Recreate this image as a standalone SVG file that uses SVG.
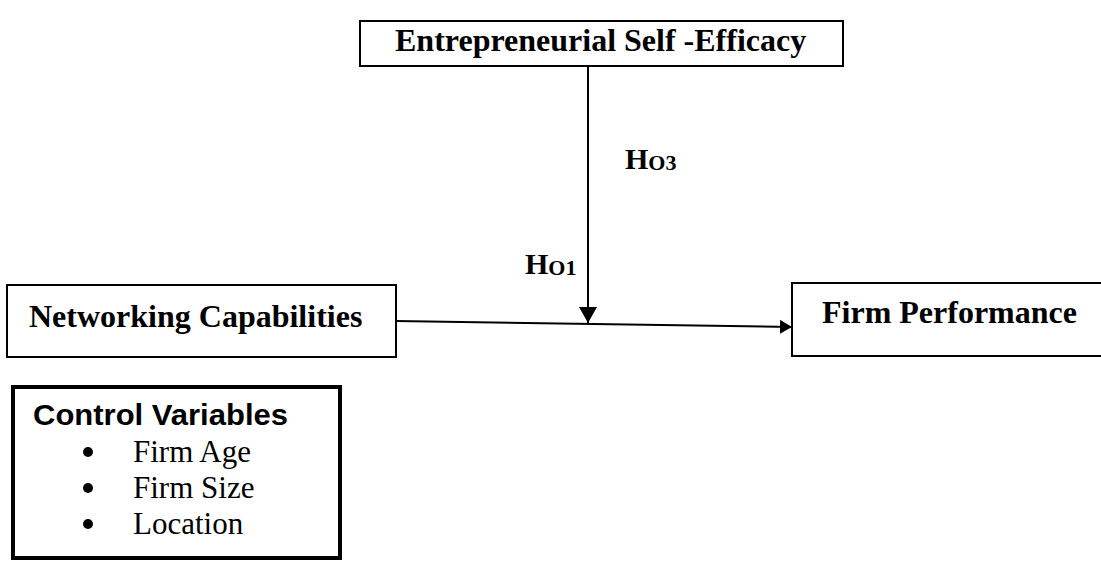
<svg xmlns="http://www.w3.org/2000/svg" width="1101" height="561" viewBox="0 0 1101 561">
<defs>
<style>
.box{fill:#fff;stroke:#000;stroke-width:2}
.t{font-family:"Liberation Serif","Times New Roman",serif;font-weight:bold;font-size:32px;fill:#000}
.h{font-family:"Liberation Serif","Times New Roman",serif;font-weight:bold;font-size:30px;fill:#000}
.hs{font-size:22px}
.cv{font-family:"Liberation Sans",Arial,sans-serif;font-weight:bold;font-size:29px;fill:#000}
.it{font-family:"Liberation Serif","Times New Roman",serif;font-size:31px;fill:#000}
.ln{stroke:#000;stroke-width:2;fill:none}
</style>
<marker id="ah" viewBox="0 0 12 14" refX="12" refY="7" markerWidth="12" markerHeight="14" markerUnits="userSpaceOnUse" orient="auto">
<path d="M0,0 L12,7 L0,14 Z" fill="#000"/>
</marker>
<marker id="ahv" viewBox="0 0 16 18" refX="16" refY="9" markerWidth="16" markerHeight="18" markerUnits="userSpaceOnUse" orient="auto">
<path d="M0,0 L16,9 L0,18 Z" fill="#000"/>
</marker>
</defs>
<rect width="1101" height="561" fill="#fff"/>
<g id="connectors">
<line class="ln" x1="396" y1="321" x2="792" y2="327" marker-end="url(#ah)"/>
<line class="ln" x1="588" y1="66" x2="588" y2="323" marker-end="url(#ahv)"/>
</g>
<g id="ese">
<rect class="box" x="360" y="21" width="483" height="45"/>
<text class="t" x="395" y="51">Entrepreneurial Self -Efficacy</text>
</g>
<g id="nc">
<rect class="box" x="7" y="285" width="389" height="72"/>
<text class="t" x="29" y="327">Networking Capabilities</text>
</g>
<g id="fp">
<rect class="box" x="792" y="283" width="312" height="73"/>
<text class="t" x="822" y="323">Firm Performance</text>
</g>
<g id="h03">
<text class="h" x="625" y="169">H<tspan class="hs" dy="1">O3</tspan></text>
</g>
<g id="h01">
<text class="h" x="525" y="274">H<tspan class="hs" dy="1">O1</tspan></text>
</g>
<g id="cv">
<rect x="13" y="387" width="327" height="171" fill="#fff" stroke="#000" stroke-width="4"/>
<text class="cv" x="33" y="425" textLength="255" lengthAdjust="spacingAndGlyphs">Control Variables</text>
<circle cx="88" cy="452" r="5"/>
<text class="it" x="133" y="462">Firm Age</text>
<circle cx="88" cy="488" r="5"/>
<text class="it" x="133" y="498">Firm Size</text>
<circle cx="88" cy="524" r="5"/>
<text class="it" x="133" y="534">Location</text>
</g>
</svg>
